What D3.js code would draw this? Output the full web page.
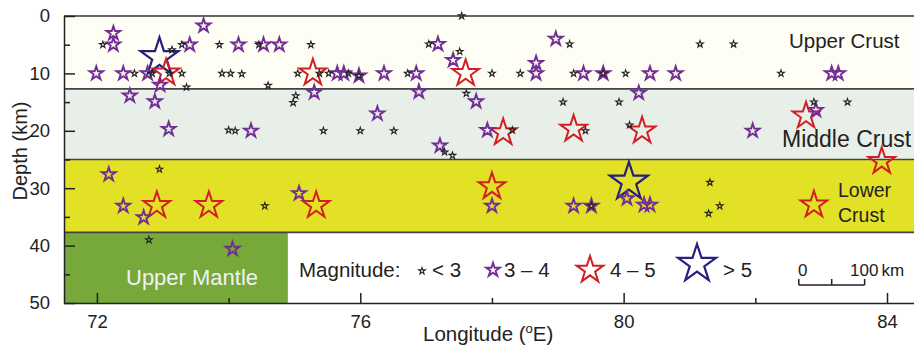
<!DOCTYPE html>
<html>
<head>
<meta charset="utf-8">
<script src="https://cdn.jsdelivr.net/npm/d3@7"></script>
<style>
  body { margin: 0; background: #fff; }
  svg { display: block; font-family: 'Liberation Sans', Arial, sans-serif; }
  .axis text { font-size: 18.5px; fill: #222; }
  .axis path, .axis line { stroke: #222; stroke-width: 1.5; }
</style>
</head>
<body>
<svg id="chart" width="914" height="346"></svg>
<script>
// layers of the crust model (depth in km)
const layerNames = ['Upper Crust', 'Middle Crust', 'Lower Crust', 'Upper Mantle']
const layerTop = [0, 12.7, 25, 37.7]
const layerBottom = [12.7, 25, 37.7, 50]
const layerColors = ['#fffef5', '#e8efe9', '#e3e126', '#76a83a']
const mantleEastEdge = 74.9 // mantle box stops here, legend sits to the right

// events as [longitude, depth]
const quakesBelow3 = [
  [77.54, 0], [72.09, 5], [73.29, 5], [73.14, 5.9], [73.86, 5], [74.46, 5], [75.25, 5],
  [77.04, 4.9], [77.51, 6.2], [79.18, 4.9], [81.16, 4.9], [81.67, 4.9],
  [72.57, 10], [72.84, 10], [73.1, 10], [73.29, 10], [73.9, 10], [74.03, 10], [74.2, 10.1],
  [75.05, 10], [75.38, 10], [75.52, 10], [75.82, 10], [75.98, 10.4], [76.72, 10], [78.0, 10],
  [78.43, 10], [79.24, 10], [79.69, 10], [80.03, 10], [82.39, 10],
  [73.36, 12.4], [74.6, 12.1], [75.02, 13.9], [74.98, 15.1], [77.61, 13.5], [79.08, 15],
  [79.93, 15], [82.89, 15], [83.4, 15],
  [74.0, 19.9], [74.1, 20], [75.44, 20], [76.0, 20], [76.51, 20], [78.31, 19.9], [79.42, 20], [80.09, 19],
  [77.28, 23.7], [77.4, 24.3], [72.95, 26.7], [74.55, 33.1], [79.51, 33.1], [81.31, 29],
  [81.46, 33.1], [81.29, 34.4], [72.79, 39]
]
const quakes3to4 = [
  [72.25, 3], [72.25, 5], [73.62, 1.7], [73.41, 5], [74.15, 5], [74.53, 5], [74.77, 5],
  [77.18, 4.9], [77.41, 7.7], [78.97, 4], [78.67, 8.2], [78.67, 10],
  [71.99, 10], [72.4, 10], [72.77, 10], [75.65, 10], [75.75, 10], [75.98, 10.4], [76.36, 10],
  [76.85, 10], [79.39, 10], [79.69, 10], [80.4, 10], [80.79, 10], [83.16, 10], [83.26, 10],
  [72.96, 12], [72.5, 13.9], [72.88, 14.9], [75.3, 13.3], [76.89, 13.2], [77.76, 14.9],
  [80.23, 13.4], [82.92, 16.4], [76.26, 17],
  [73.09, 19.7], [74.34, 20], [77.93, 19.9], [81.96, 20], [77.21, 22.6],
  [72.18, 27.6], [72.4, 33.1], [72.71, 35.1], [75.07, 30.9], [78.0, 33.1], [79.24, 33.1],
  [79.51, 33.1], [80.05, 31.8], [80.31, 32.9], [80.4, 32.9], [74.06, 40.6]
]
const quakes4to5 = [
  [73.05, 9.9], [75.28, 9.9], [77.6, 10], [78.17, 20.3], [79.24, 19.7], [80.28, 20],
  [82.77, 17.4], [83.92, 25.3], [72.91, 33], [73.7, 33], [75.33, 33], [78.0, 29.7], [82.89, 32.9]
]
const quakesAbove5 = [[72.95, 7.2], [80.08, 28.9]]

const classLabels = ['< 3', '3 – 4', '4 – 5', '> 5']

const depthTicks = [0, 10, 20, 30, 40, 50]
const depthMinor = [5, 15, 25, 35, 45]
const lonTicks = [72, 76, 80, 84]
const lonMinor = [74, 78, 82]

const svg = d3.select('#chart')
const x = d3.scaleLinear().domain([71.5, 84.41]).range([64, 914])
const y = d3.scaleLinear().domain([0, 50]).range([16, 303])

// star path with outer radius r
const star = r => d3.symbol().type(d3.symbolStar).size(r * r / 0.8908130915292852)()

// bands
const bands = svg.append('g')
layerNames.forEach((name, i) => {
  const east = name === 'Upper Mantle' ? mantleEastEdge : x.domain()[1]
  bands.append('rect')
    .attr('x', x(x.domain()[0])).attr('y', y(layerTop[i]))
    .attr('width', x(east) - x(x.domain()[0])).attr('height', y(layerBottom[i]) - y(layerTop[i]))
    .attr('fill', layerColors[i])
})
bands.append('line')
  .attr('x1', x.range()[0]).attr('x2', x.range()[1])
  .attr('y1', y(0)).attr('y2', y(0))
  .attr('stroke', '#666').attr('stroke-width', 2)
layerBottom.slice(0, 3).forEach(d => {
  bands.append('line')
    .attr('x1', x.range()[0]).attr('x2', x.range()[1])
    .attr('y1', y(d)).attr('y2', y(d))
    .attr('stroke', '#444').attr('stroke-width', 1.6)
})

// layer labels
const label = (t, px, py, size, color) => svg.append('text')
  .attr('x', px).attr('y', py).attr('font-size', size).attr('fill', color || '#222').text(t)
label('Upper Crust', 789, 48, 20.5)
label('Middle Crust', 782, 147, 23)
label('Lower', 838, 197, 19.5)
label('Crust', 838, 222, 19.5)
label('Upper Mantle', 126, 285, 22, '#f2f2f2')

// stars
const classes = [
  { data: quakesAbove5, r: 20, color: '#25207e', w: 2.2 },
  { data: quakes4to5, r: 14, color: '#d21f24', w: 2 },
  { data: quakes3to4, r: 7.2, color: '#722d96', w: 1.9 },
  { data: quakesBelow3, r: 3.5, color: '#222', w: 1.1 }
]
classes.forEach(c => {
  svg.append('g').selectAll('path').data(c.data).join('path')
    .attr('d', star(c.r))
    .attr('transform', d => `translate(${x(d[0])},${y(d[1])})`)
    .attr('fill', 'none').attr('stroke', c.color).attr('stroke-width', c.w)
})

// axes
svg.append('g').attr('class', 'axis').attr('transform', `translate(${x.range()[0]},0)`)
  .call(d3.axisLeft(y).tickValues(depthTicks).tickSize(-11).tickSizeOuter(0).tickPadding(14))
svg.append('g').attr('class', 'axis').attr('transform', `translate(${x.range()[0]},0)`)
  .call(d3.axisLeft(y).tickValues(depthMinor).tickSize(-6).tickSizeOuter(0).tickFormat(''))
  .select('.domain').remove()
svg.append('g').attr('class', 'axis').attr('transform', `translate(0,${y(50)})`)
  .call(d3.axisBottom(x).tickValues(lonTicks).tickSize(-10).tickSizeOuter(0).tickPadding(12))
svg.append('g').attr('class', 'axis').attr('transform', `translate(0,${y(50)})`)
  .call(d3.axisBottom(x).tickValues(lonMinor).tickSize(-5).tickSizeOuter(0).tickFormat(''))
  .select('.domain').remove()

svg.append('text')
  .attr('transform', 'translate(27,151) rotate(-90)')
  .attr('text-anchor', 'middle').attr('font-size', 20).attr('fill', '#222')
  .text('Depth (km)')
const xt = svg.append('text').attr('x', 423).attr('y', 341).attr('font-size', 20.5).attr('fill', '#222')
xt.append('tspan').text('Longitude (')
xt.append('tspan').attr('font-size', 13).attr('dy', -8).text('o')
xt.append('tspan').attr('dy', 8).text('E)')

// legend
const legend = svg.append('g')
legend.append('text').attr('x', 299).attr('y', 277).attr('font-size', 20.5).attr('fill', '#222').text('Magnitude:')
const legendStarX = [422, 493, 590, 697]
const legendStarY = [271, 270, 270, 264]
const legendTextX = [432, 504, 610, 723]
const legendOrder = [3, 2, 1, 0] // classes array goes big to small
classLabels.forEach((t, i) => {
  const c = classes[legendOrder[i]]
  legend.append('path').attr('d', star(c.r))
    .attr('transform', `translate(${legendStarX[i]},${legendStarY[i]})`)
    .attr('fill', 'none').attr('stroke', c.color).attr('stroke-width', c.w)
  legend.append('text').attr('x', legendTextX[i]).attr('y', 277)
    .attr('font-size', 20.5).attr('fill', '#222').text(t)
})

// scale bar: 100 km
const barStart = 82.66
const barDeg = 1.0
const bx0 = x(barStart)
const bx1 = x(barStart + barDeg)
const bar = svg.append('g').attr('stroke', '#222').attr('stroke-width', 1.5)
bar.append('line').attr('x1', bx0).attr('x2', bx1).attr('y1', 285).attr('y2', 285)
;[bx0, (bx0 + bx1) / 2, bx1].forEach(v => {
  bar.append('line').attr('x1', v).attr('x2', v).attr('y1', 279).attr('y2', 285)
})
svg.append('text').attr('x', bx0 + 4).attr('y', 276).attr('text-anchor', 'middle')
  .attr('font-size', 17).attr('fill', '#222').text('0')
const km = svg.append('text').attr('x', 850).attr('y', 276)
  .attr('font-size', 17).attr('fill', '#222')
km.append('tspan').text('100')
km.append('tspan').attr('dx', 3).text('km')
</script>
</body>
</html>
